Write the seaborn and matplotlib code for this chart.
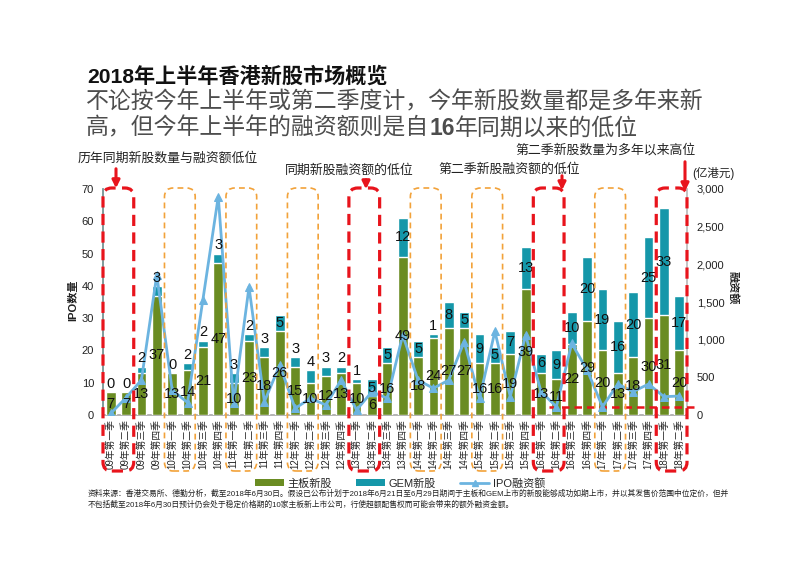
import numpy as np
import pandas as pd
import matplotlib
matplotlib.use("Agg")
import matplotlib.pyplot as plt
import seaborn as sns
from matplotlib.patches import FancyBboxPatch, FancyArrowPatch, Patch
from matplotlib.lines import Line2D

# ---------------- data ----------------
quarters = ["09年第一季", "09年第二季", "09年第三季", "09年第四季",
            "10年第一季", "10年第二季", "10年第三季", "10年第四季",
            "11年第一季", "11年第二季", "11年第三季", "11年第四季",
            "12年第一季", "12年第二季", "12年第三季", "12年第四季",
            "13年第一季", "13年第二季", "13年第三季", "13年第四季",
            "14年第一季", "14年第二季", "14年第三季", "14年第四季",
            "15年第一季", "15年第二季", "15年第三季", "15年第四季",
            "16年第一季", "16年第二季", "16年第三季", "16年第四季",
            "17年第一季", "17年第二季", "17年第三季", "17年第四季",
            "18年第一季", "18年第二季"]
main_board = [7, 7, 13, 37, 13, 14, 21, 47, 10, 23, 18, 26, 15, 10, 12, 13, 10, 6, 16, 49,
              18, 24, 27, 27, 16, 16, 19, 39, 13, 11, 22, 29, 20, 13, 18, 30, 31, 20]
gem_board = [0, 0, 2, 3, 0, 2, 2, 3, 3, 2, 3, 5, 3, 4, 3, 2, 1, 5, 5, 12,
             5, 1, 8, 5, 9, 5, 7, 13, 6, 9, 10, 20, 19, 16, 20, 25, 33, 17]
ipo_funds = [20, 230, 465, 1860, 330, 165, 1530, 2900, 155, 1700, 177, 663, 88, 221, 133, 464, 66, 310, 221, 1061,
             464, 354, 464, 972, 221, 1110, 243, 1061, 310, 110, 950, 597, 110, 411, 310, 411, 243, 252]
low_line_value = 100

red_boxes = [0, 16, 28, 36]
orange_boxes = [4, 8, 12, 20, 24, 32]

GREEN = "#6a8c22"
TEAL = "#1597a9"
LINE = "#6cb4e0"
RED = "#e8141c"
ORANGE = "#f2a23a"

df = pd.DataFrame({"quarter": quarters, "main": main_board, "gem": gem_board, "funds": ipo_funds})
df["total"] = df["main"] + df["gem"]

sns.set_theme(style="white")
plt.rcParams["font.family"] = ["Liberation Sans", "Noto Sans CJK SC", "DejaVu Sans"]
plt.rcParams["axes.unicode_minus"] = False

W, H = 800, 566
fig = plt.figure(figsize=(8, 5.66), dpi=100)
ax_left, ax_right, ax_top, ax_bot = 103, 687, 189, 415
ax = fig.add_axes([ax_left / W, 1 - ax_bot / H, (ax_right - ax_left) / W, (ax_bot - ax_top) / H])

sns.barplot(data=df, x="quarter", y="total", color=TEAL, ax=ax, width=0.64, saturation=1, zorder=2)
sns.barplot(data=df, x="quarter", y="main", color=GREEN, ax=ax, width=0.64, saturation=1, zorder=3)
ax.set_xlim(-0.5, len(df) - 0.5)
ax.set_ylim(0, 70)
ax.set_yticks(range(0, 71, 10))
ax.set_xlabel("")
ax.set_ylabel("")
ax.tick_params(axis="y", length=0, pad=6.5, labelsize=8, labelcolor="#222")
ax.tick_params(axis="x", length=0, pad=3, labelsize=7, rotation=90)
for s in ["top", "right"]:
    ax.spines[s].set_visible(False)
ax.spines["left"].set_color("#6f8f8f")
ax.spines["bottom"].set_color("#aaaaaa")

ax2 = ax.twinx()
sns.lineplot(x=np.arange(len(df)), y=df["funds"].values, ax=ax2, color=LINE, lw=2,
             marker="^", markersize=5.5, markeredgecolor=LINE, zorder=5)
ax2.set_ylim(0, 3000)
ax2.set_yticks(range(0, 3001, 500))
ax2.set_yticklabels([f"{v:,}" for v in range(0, 3001, 500)])
ax2.tick_params(axis="y", length=0, pad=7, labelsize=8, labelcolor="#222")
ax2.set_ylabel("")
ax2.set_xlim(-0.5, len(df) - 0.5)
for s in ["top", "left"]:
    ax2.spines[s].set_visible(False)
ax2.spines["right"].set_color("#bbbbbb")
ax2.spines["bottom"].set_visible(False)

# value labels
lab_kw = dict(transform=ax.transData, ha="center", fontsize=10.5, color="#111", zorder=6)
for i, r in df.iterrows():
    ax2.text(i, r["main"] / 2, str(r["main"]), va="center", **lab_kw)
    if r["gem"] >= 5:
        ax2.text(i, r["main"] + r["gem"] / 2, str(r["gem"]), va="center", **lab_kw)
    else:
        ax2.text(i, r["total"] + 0.4, str(r["gem"]), va="bottom", **lab_kw)

# red dashed low line
ax2.plot([28.5, 38.2], [low_line_value, low_line_value], color=RED, lw=1.8,
         ls=(0, (3, 2)), clip_on=False, zorder=4)

# boxes
fig.canvas.draw()
inv = fig.transFigure.inverted()

def fx(xdata):
    return inv.transform(ax.transData.transform((xdata, 0)))[0]

box_top = 1 - 188 / H
box_bot = 1 - 471 / H
for idx, col, lw, ls in ([(i, RED, 2.3, (0, (3.5, 2))) for i in red_boxes] +
                         [(i, ORANGE, 1.2, (0, (3.5, 2.5))) for i in orange_boxes]):
    cx = idx + 0.5
    x0 = fx(cx - 1.0)
    x1 = fx(cx + 1.0)
    box = FancyBboxPatch((x0, box_bot), x1 - x0, box_top - box_bot,
                         boxstyle="round,pad=0,rounding_size=0.011", mutation_aspect=W / H,
                         transform=fig.transFigure, fill=False, edgecolor=col, lw=lw, ls=ls,
                         zorder=10)
    fig.add_artist(box)

def arrow(x, y0, y1):
    a = FancyArrowPatch((x / W, 1 - y0 / H), (x / W, 1 - y1 / H), transform=fig.transFigure,
                        arrowstyle="-|>", mutation_scale=11, color=RED, lw=2.2, zorder=11)
    fig.add_artist(a)

arrow(116, 166, 191)
arrow(366, 177, 192)
arrow(562, 173, 193)
arrow(685, 159, 194)

ann_kw = dict(fontsize=9.3, color="#222", va="center", ha="left")
fig.text(78 / W, 1 - 158 / H, "历年同期新股数量与融资额低位", **ann_kw)
fig.text(285 / W, 1 - 171 / H, "同期新股融资额的低位", **ann_kw)
fig.text(438 / W, 1 - 170 / H, "第二季新股融资额的低位", **ann_kw)
fig.text(515 / W, 1 - 150 / H, "第二季新股数量为多年以来高位", **ann_kw)

# axis titles
fig.text(73 / W, 1 - 300 / H, "IPO数量", rotation=90, ha="center", va="center",
         fontsize=8, fontweight="bold", color="#222")
fig.text(733 / W, 1 - 288 / H, "融资额", rotation=270, ha="center", va="center",
         fontsize=8, fontweight="bold", color="#222")
fig.text(713 / W, 1 - 173 / H, "(亿港元)", ha="center", va="center", fontsize=8.3, color="#222")

# titles
fig.text(87 / W, 1 - 76 / H, "2018年上半年香港新股市场概览", fontsize=15.2, fontweight="bold",
         color="#111", va="center", ha="left")
sub_kw = dict(fontsize=16.5, color="#4d4d4d", va="center", ha="left")
fig.text(86 / W, 1 - 102 / H, "不论按今年上半年或第二季度计，今年新股数量都是多年来新", **sub_kw)
renderer = fig.canvas.get_renderer()
t1 = fig.text(86 / W, 1 - 128 / H, "高，但今年上半年的融资额则是自", **sub_kw)
bb = t1.get_window_extent(renderer)
x_next = inv.transform((bb.x1, 0))[0]
t2 = fig.text(x_next, 1 - 128 / H, "16", fontweight="bold", **sub_kw)
bb2 = t2.get_window_extent(renderer)
x_next2 = inv.transform((bb2.x1, 0))[0]
fig.text(x_next2, 1 - 128 / H, "年同期以来的低位", **sub_kw)

# legend
handles = [Patch(facecolor=GREEN, edgecolor="none", label="主板新股"),
           Patch(facecolor=TEAL, edgecolor="none", label="GEM新股"),
           Line2D([0], [0], color=LINE, lw=2, marker="^", markersize=5, label="IPO融资额")]
fig.legend(handles=handles, loc="center", bbox_to_anchor=(400 / W, 1 - 483 / H), ncol=3,
           frameon=False, fontsize=8, handlelength=2.6, handleheight=0.5, columnspacing=2.2,
           handletextpad=0.3)

# footnote
foot_kw = dict(fontsize=5.6, color="#222", va="center", ha="left")
fig.text(88 / W, 1 - 494 / H,
         "资料来源：香港交易所、德勤分析，截至2018年6月30日。假设已公布计划于2018年6月21日至6月29日期间于主板和GEM上市的新股能够成功如期上市，并以其发售价范围中位定价，但并",
         **foot_kw)
fig.text(88 / W, 1 - 505 / H,
         "不包括截至2018年6月30日预计仍会处于稳定价格期的10家主板新上市公司，行使超额配售权而可能会带来的额外融资金额。",
         **foot_kw)

fig.savefig("out.png", dpi=100)
